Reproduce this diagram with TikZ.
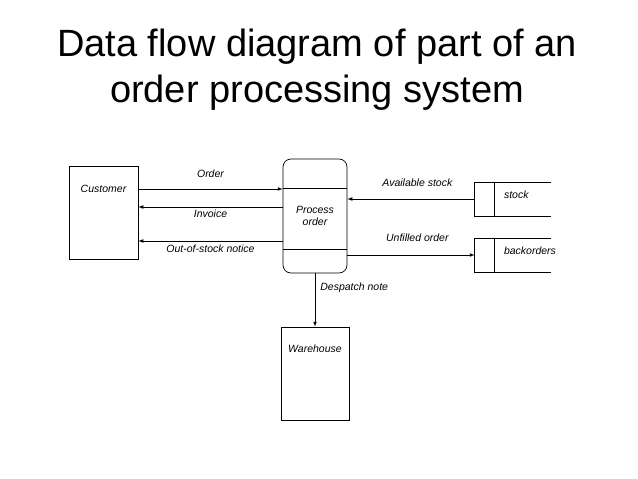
\documentclass[tikz,border=0pt]{standalone}
\usepackage{fontspec}
\setmainfont{Liberation Sans}
\usetikzlibrary{positioning}
\begin{document}
\begin{tikzpicture}[x=1pt, y=-1pt, line width=0.7pt,
    lbl/.style={font=\itshape\fontsize{10.5}{12}\selectfont, inner sep=0pt},
    entity/.style={draw, minimum width=69pt, minimum height=93pt, inner sep=0pt},
    proc/.style={draw, rounded corners=8pt, minimum width=64pt, minimum height=114pt, align=center, lbl},
    store/.style={minimum width=76pt, minimum height=33pt, inner sep=0pt},
    flow/.style={-latex}]
\useasboundingbox (0,0) rectangle (638,479);
\node[align=center, font=\fontsize{38}{46}\selectfont] (title) at (317,70) {Data flow diagram of part of an\\order processing system};
% external entities
\node[entity] (customer) at (103.5,212.5) {};
\node[lbl, below=19pt of customer.north] (customerlbl) {Customer};
\node[entity, minimum width=68pt] (warehouse) at (315,373.5) {};
\node[lbl, below=18pt of warehouse.north] (warehouselbl) {Warehouse};
% process
\node[proc] (process) at (315,216) {Process\\order};
\draw ([yshift=-30pt]process.north west) -- ([yshift=-30pt]process.north east);
\draw ([yshift=24pt]process.south west) -- ([yshift=24pt]process.south east);
% data stores
\node[store] (stock) at (513,199) {};
\node[store] (backorders) at (513,255) {};
\foreach \s in {stock,backorders}{
  \draw (\s.north east) -- (\s.north west) -- (\s.south west) -- (\s.south east);
  \draw ([xshift=20pt]\s.north west) -- ([xshift=20pt]\s.south west);
  \node[lbl, anchor=west] (\s lbl) at ([xshift=29pt,yshift=4pt]\s.west) {\s};
}
% data flows
\draw[flow] ([yshift=23.5pt]customer.east) -- ([yshift=23.5pt]customer.east -| process.west)
    node[midway, above=11pt, lbl] (orderlbl) {Order};
\draw[flow] ([yshift=5.5pt]customer.east -| process.west) -- ([yshift=5.5pt]customer.east)
    node[midway, below=3pt, lbl] (invoicelbl) {Invoice};
\draw[flow] ([yshift=-28.5pt]customer.east -| process.west) -- ([yshift=-28.5pt]customer.east)
    node[midway, below=4pt, lbl] (noticelbl) {Out-of-stock notice};
\draw[flow] (stock.west) -- (stock.west -| process.east)
    node[pos=0.45, above=12pt, lbl] (availlbl) {Available stock};
\draw[flow] (backorders.west -| process.east) -- (backorders.west)
    node[pos=0.55, above=13pt, lbl] (unfilledlbl) {Unfilled order};
\draw[flow] (process.south) -- (warehouse.north)
    node[pos=0.28, right=5pt, lbl] (despatchlbl) {Despatch note};
\end{tikzpicture}
\end{document}
